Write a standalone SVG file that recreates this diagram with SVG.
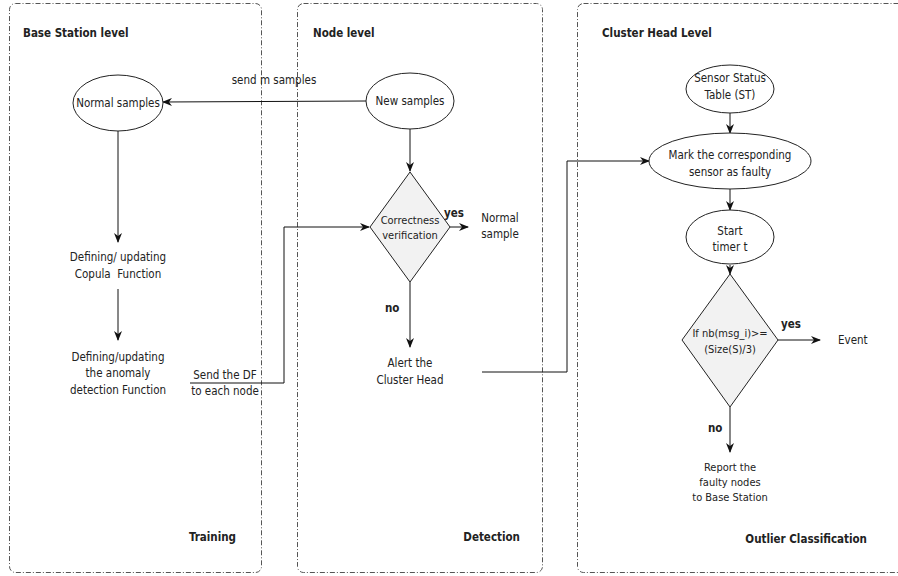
<svg xmlns="http://www.w3.org/2000/svg" width="898" height="576" viewBox="0 0 898 576">
<defs>
<style>
text{font-family:"DejaVu Sans Condensed","DejaVu Sans","Liberation Sans",sans-serif;fill:#222;}
.t{font-size:11.5px;text-anchor:middle;}
.b{font-size:11.5px;font-weight:bold;}
.h{font-size:11.5px;font-weight:bold;}
.panel{fill:#fff;stroke:#555;stroke-width:1;stroke-dasharray:5 2 1 2;}
.sh{fill:#fff;stroke:#222;stroke-width:1;}
.dm{fill:#f2f2f2;stroke:#222;stroke-width:1;}
.c{fill:none;stroke:#111;stroke-width:1;}
.a{fill:none;stroke:#111;stroke-width:1;marker-end:url(#arr);}
</style>
<marker id="arr" viewBox="0 0 10 8" refX="9" refY="4" markerWidth="10" markerHeight="8" markerUnits="userSpaceOnUse" orient="auto">
<path d="M0,0 L10,4 L0,8 L3,4 z" fill="#111"/>
</marker>
</defs>

<g id="panel-base">
<rect class="panel" x="9.5" y="3.5" width="252" height="569" rx="6"/>
<text class="h" x="23" y="37">Base Station level</text>
<text class="h" x="236" y="541" text-anchor="end">Training</text>
</g>
<g id="panel-node">
<rect class="panel" x="297.5" y="3.5" width="245" height="569" rx="6"/>
<text class="h" x="313" y="37">Node level</text>
<text class="h" x="520" y="541" text-anchor="end">Detection</text>
</g>
<g id="panel-cluster">
<rect class="panel" x="577.5" y="3.5" width="330" height="569" rx="6"/>
<text class="h" x="602" y="37">Cluster Head Level</text>
<text class="h" x="867" y="543" text-anchor="end">Outlier Classification</text>
</g>

<g id="connectors">
<path class="a" d="M366,101 L163,102"/>
<text class="t" x="274" y="84">send m samples</text>
<path class="a" d="M410,129 L410,171"/>
<path class="a" d="M118,131 L118,242"/>
<path class="a" d="M118,289 L118,340"/>
<path class="a" d="M190,383 L284,383 L284,227 L369,227"/>
<text class="t" x="225" y="379">Send the DF</text>
<text class="t" x="225" y="395">to each node</text>
<path class="a" d="M450,227 L468,227"/>
<text class="b" x="444" y="217">yes</text>
<path class="a" d="M410,282 L410,347"/>
<text class="b" x="385" y="312">no</text>
<path class="a" d="M482,372 L567,372 L567,161 L649,161"/>
<path class="a" d="M730,113 L730,133"/>
<path class="a" d="M730,189 L730,210"/>
<path class="a" d="M730,265 L730,274"/>
<path class="a" d="M778,340 L820,340"/>
<text class="b" x="781" y="328">yes</text>
<path class="a" d="M730,407 L730,452"/>
<text class="b" x="708" y="432">no</text>
</g>

<g id="normal-samples">
<ellipse class="sh" cx="118" cy="103" rx="45" ry="28"/>
<text class="t" x="118" y="107">Normal samples</text>
</g>
<g id="define-copula">
<text class="t" x="118" y="261">Defining/ updating</text>
<text class="t" x="118" y="278">Copula &#160;Function</text>
</g>
<g id="define-df">
<text class="t" x="118" y="361">Defining/updating</text>
<text class="t" x="118" y="377">the anomaly</text>
<text class="t" x="118" y="394">detection Function</text>
</g>
<g id="new-samples">
<ellipse class="sh" cx="410" cy="101" rx="44" ry="28"/>
<text class="t" x="410" y="105">New samples</text>
</g>
<g id="correctness">
<path class="dm" d="M410,172 L450,227 L410,282 L370,227 z"/>
<text class="t" x="410" y="224" style="font-size:11px">Correctness</text>
<text class="t" x="410" y="239" style="font-size:11px">verification</text>
</g>
<g id="normal-sample">
<text class="t" x="500" y="222">Normal</text>
<text class="t" x="500" y="238">sample</text>
</g>
<g id="alert">
<text class="t" x="410" y="367">Alert the</text>
<text class="t" x="410" y="384">Cluster Head</text>
</g>
<g id="sst">
<ellipse class="sh" cx="730" cy="89" rx="44" ry="24"/>
<text class="t" x="730" y="82">Sensor Status</text>
<text class="t" x="730" y="99">Table (ST)</text>
</g>
<g id="mark">
<ellipse class="sh" cx="730" cy="161" rx="81" ry="28"/>
<text class="t" x="730" y="159">Mark the corresponding</text>
<text class="t" x="730" y="176">sensor as faulty</text>
</g>
<g id="timer">
<ellipse class="sh" cx="730" cy="237" rx="44" ry="27"/>
<text class="t" x="730" y="235">Start</text>
<text class="t" x="730" y="251">timer t</text>
</g>
<g id="condition">
<path class="dm" d="M730,274 L778,340 L730,407 L682,340 z"/>
<text class="t" x="730" y="337" style="font-size:11px">If nb(msg_i)&gt;=</text>
<text class="t" x="730" y="353" style="font-size:11px">(Size(S)/3)</text>
</g>
<g id="event">
<text x="838" y="344" style="font-size:11.5px">Event</text>
</g>
<g id="report">
<text class="t" x="730" y="471" style="font-size:11px">Report the</text>
<text class="t" x="730" y="486" style="font-size:11px">faulty nodes</text>
<text class="t" x="730" y="501" style="font-size:11px">to Base Station</text>
</g>
</svg>
